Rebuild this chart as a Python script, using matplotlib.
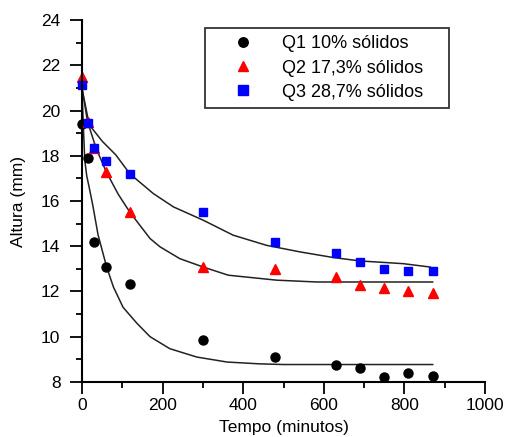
import numpy as np
import matplotlib
matplotlib.use('Agg')
import matplotlib.pyplot as plt
from matplotlib.ticker import MultipleLocator

plt.rcParams['font.family'] = ['Liberation Sans', 'DejaVu Sans']

# pontos medidos
tempo = [0, 15, 30, 60, 120, 300, 480, 630, 690, 750, 810, 870]
q1 = [19.4, 17.9, 14.2, 13.1, 12.35, 9.85, 9.1, 8.75, 8.6, 8.2, 8.4, 8.25]
q2 = [21.5, 19.5, 18.35, 17.3, 15.5, 13.1, 13.0, 12.65, 12.3, 12.15, 12.0, 11.95]
q3 = [21.15, 19.45, 18.35, 17.75, 17.2, 15.5, 14.2, 13.7, 13.3, 13.0, 12.9, 12.9]

# curvas ajustadas
fit1_x = [0, 3, 7, 12, 18, 27, 35, 40, 61, 78, 102, 136, 169, 218, 285, 360, 440, 500, 870]
fit1_y = [21.0, 19.5, 17.8, 17.1, 16.6, 15.8, 15.0, 14.5, 13.1, 12.2, 11.3, 10.6, 10.0, 9.47, 9.1, 8.88, 8.8, 8.77, 8.77]
fit2_x = [0, 14, 35, 60, 90, 119, 169, 194, 243, 301, 363, 483, 582, 870]
fit2_y = [21.0, 19.5, 18.34, 17.3, 16.3, 15.5, 14.34, 13.97, 13.45, 13.08, 12.72, 12.5, 12.42, 12.42]
fit3_x = [0, 18, 51, 84, 119, 177, 227, 301, 375, 458, 541, 624, 690, 797, 864]
fit3_y = [21.0, 19.37, 18.63, 18.04, 17.2, 16.33, 15.74, 15.15, 14.49, 14.04, 13.75, 13.5, 13.35, 13.23, 13.08]

fig = plt.figure(figsize=(5.09, 4.37), dpi=100)
ax = fig.add_axes([0.161, 0.126, 0.792, 0.828])

for fx, fy in [(fit1_x, fit1_y), (fit2_x, fit2_y), (fit3_x, fit3_y)]:
    ax.plot(fx, fy, color='#222222', lw=1.1)

ax.plot(tempo, q1, 'o', color='black', ms=6.5, label='Q1 10% sólidos', clip_on=False)
ax.plot(tempo, q2, '^', color='red', ms=6.5, label='Q2 17,3% sólidos', clip_on=False)
ax.plot(tempo, q3, 's', color='blue', ms=6.2, label='Q3 28,7% sólidos', clip_on=False)

ax.set_xlim(0, 1000)
ax.set_ylim(8, 24)
ax.xaxis.set_major_locator(MultipleLocator(200))
ax.xaxis.set_minor_locator(MultipleLocator(100))
ax.yaxis.set_major_locator(MultipleLocator(2))
ax.yaxis.set_minor_locator(MultipleLocator(1))

for s in ['top', 'right']:
    ax.spines[s].set_visible(False)
for s in ['left', 'bottom']:
    ax.spines[s].set_linewidth(1.5)

ax.tick_params(which='major', direction='out', length=8.5, width=1.3, labelsize=12.5)
ax.tick_params(which='minor', direction='out', length=4.5, width=1.3)
ax.tick_params(axis='y', which='major', pad=7)
ax.tick_params(axis='x', which='major', pad=3)

ax.set_xlabel('Tempo (minutos)', fontsize=12.5, labelpad=5)
ax.set_ylabel('Altura (mm)', fontsize=12.5, labelpad=11)

leg = ax.legend(loc='upper left', bbox_to_anchor=(0.305, 0.5, 0.605, 0.478),
                mode='expand', borderaxespad=0,
                fontsize=13, frameon=True, fancybox=False, numpoints=1,
                handlelength=3.4, handletextpad=0.45, borderpad=0.4,
                labelspacing=0.4, markerscale=1.05)
leg.get_frame().set_edgecolor('black')
leg.get_frame().set_linewidth(1.3)

fig.savefig('out.png', dpi=100)
